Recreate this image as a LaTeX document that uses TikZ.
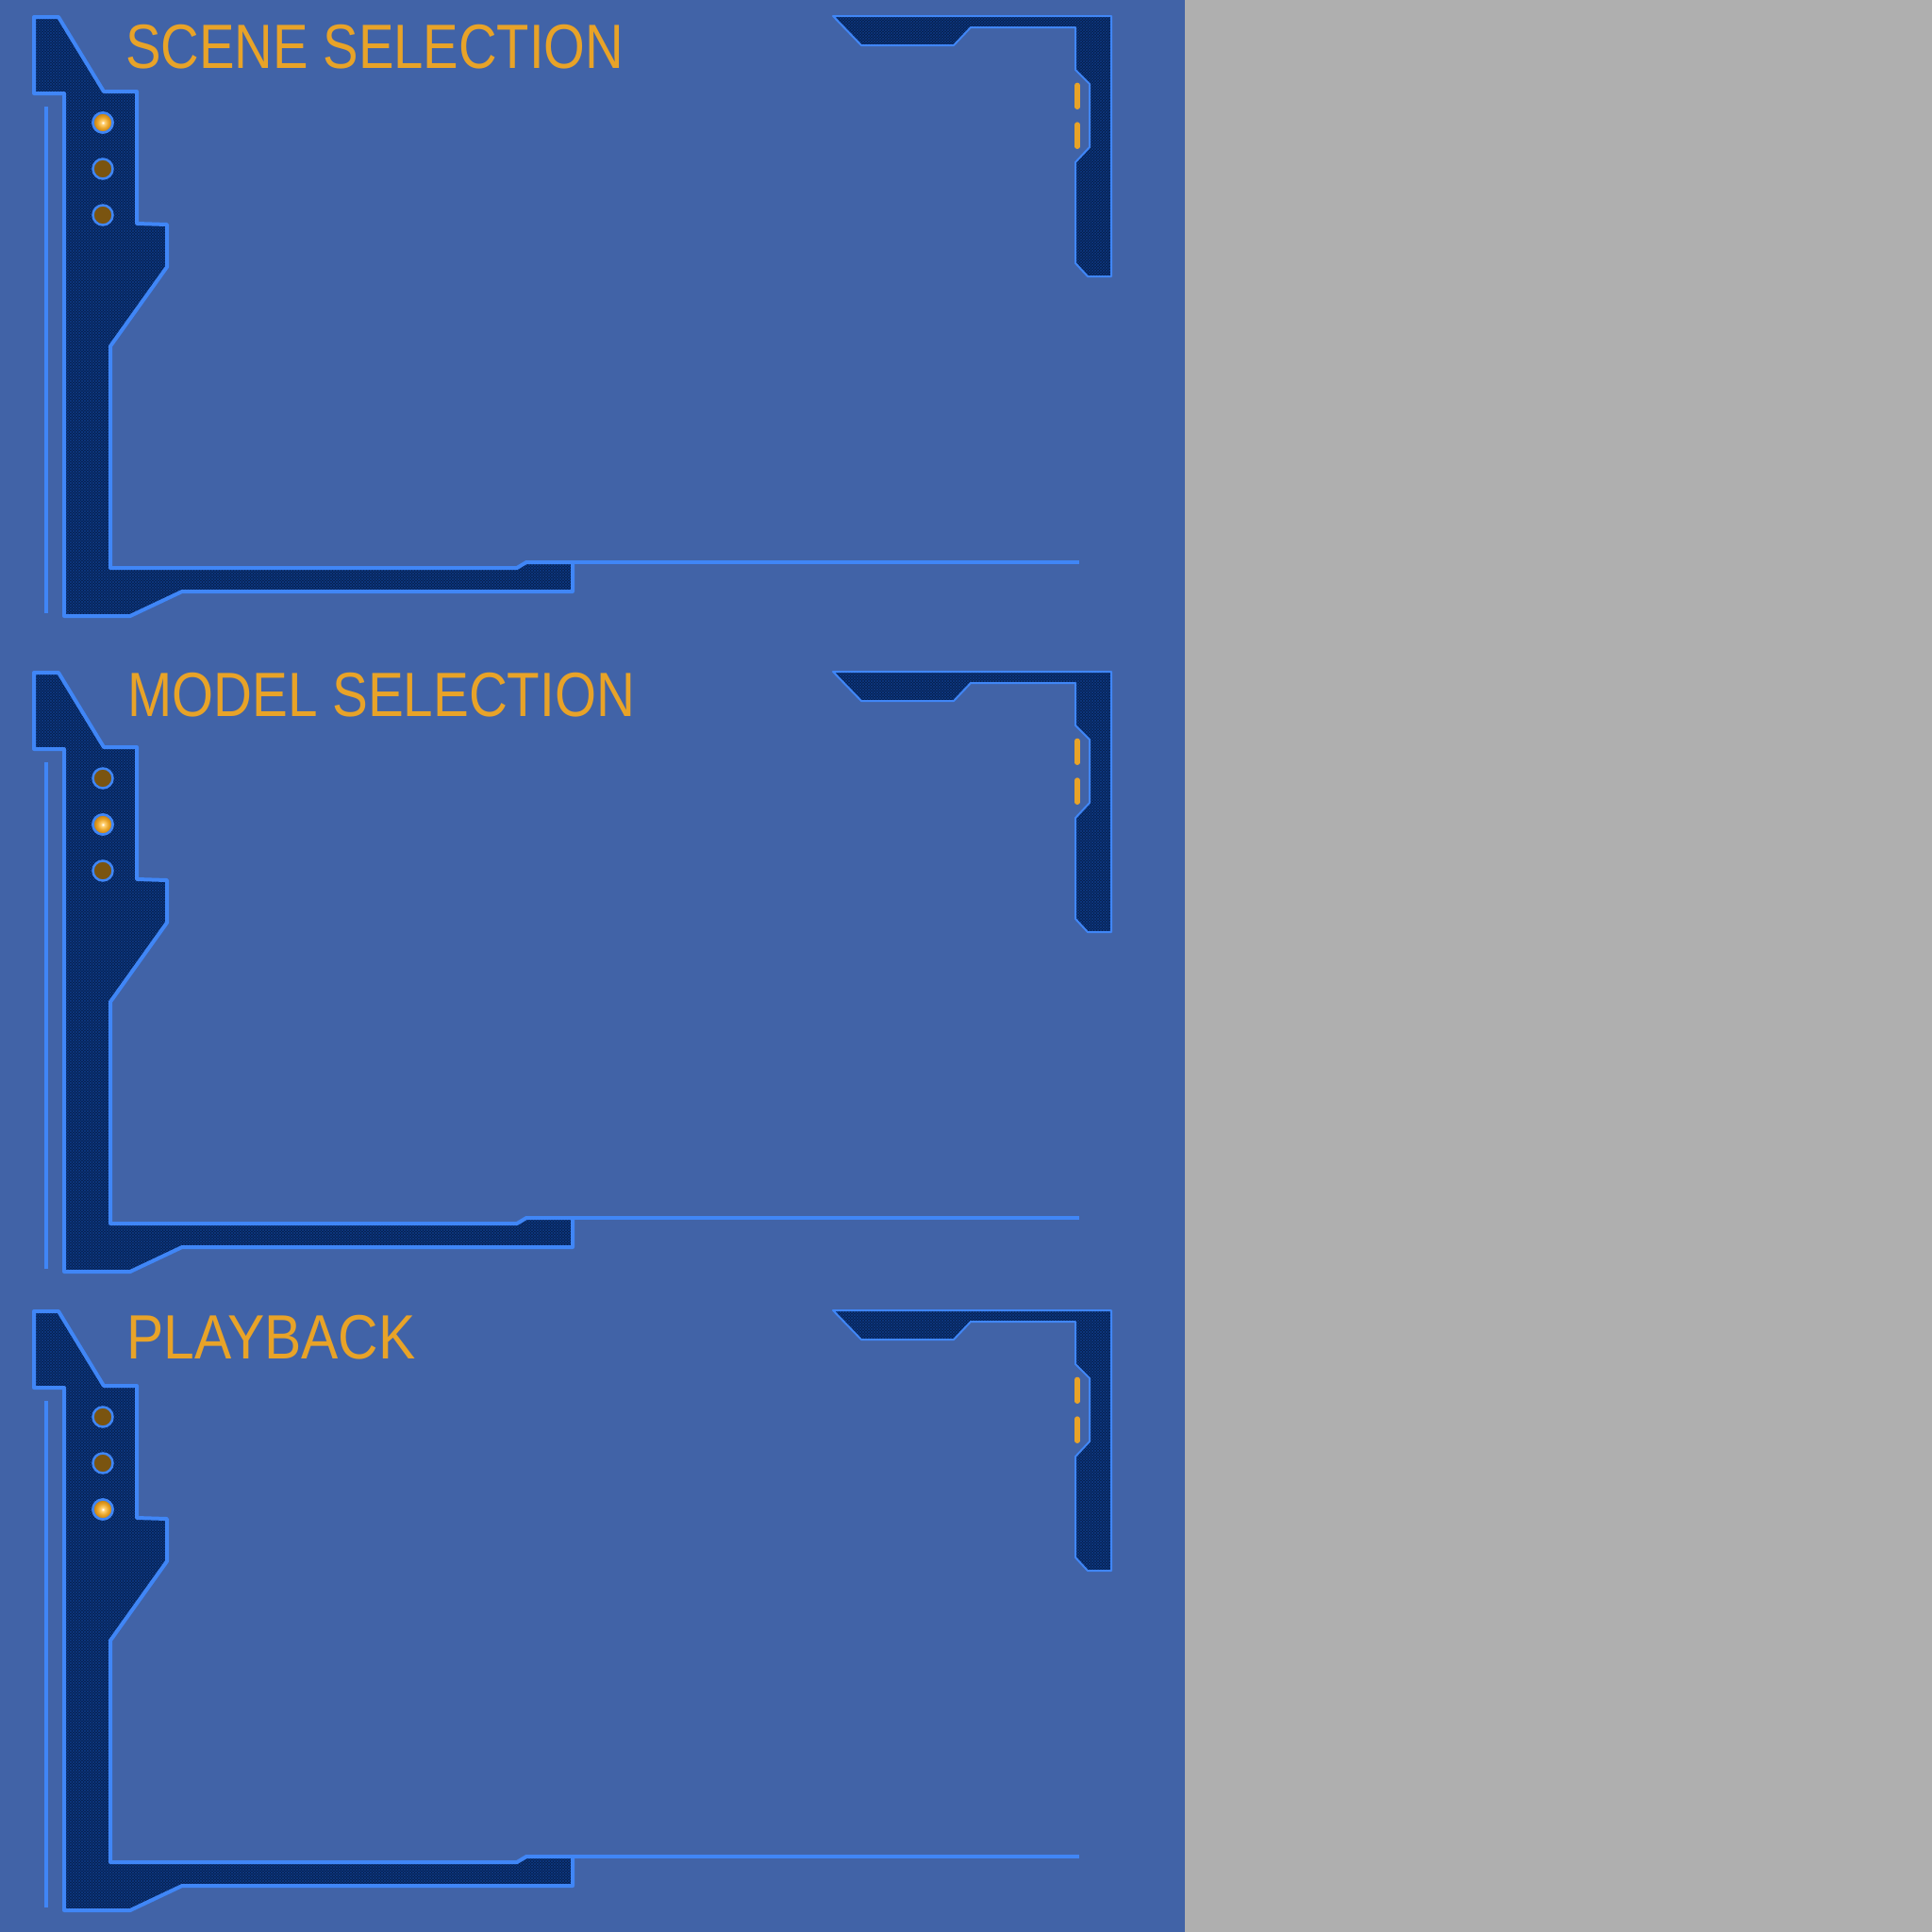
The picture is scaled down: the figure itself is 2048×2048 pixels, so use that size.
\documentclass[tikz,border=0pt]{standalone}
\usepackage{fontspec}
\setmainfont{Liberation Sans}
\usetikzlibrary{patterns}
\definecolor{bgblue}{HTML}{4163A7}
\definecolor{sidegray}{HTML}{AFAFAF}
\definecolor{navy}{HTML}{061E4C}
\definecolor{navyline}{HTML}{0E3A85}
\definecolor{edgeblue}{HTML}{4086F6}
\definecolor{amber}{HTML}{E8A328}
\definecolor{amberlight}{HTML}{FFD070}
\definecolor{amberdark}{HTML}{C07A0C}
\definecolor{dimdot}{HTML}{7A5410}
\pgfdeclareradialshading{glow}{\pgfpoint{0bp}{0bp}}{color(0bp)=(white); color(5bp)=(amberlight); color(14bp)=(amber); color(25bp)=(amberdark); color(50bp)=(amberdark)}
\tikzset{
  texture/.style={preaction={fill=navy}, preaction={pattern=north west lines, pattern color=navyline}, pattern=north east lines, pattern color=navyline},
  panelshape/.style={texture, draw=edgeblue, line width=4pt, line join=round},
  cornershape/.style={texture, draw=edgeblue, line width=2pt, line join=round},
  thinrule/.style={draw=edgeblue, line width=4pt},
  hrule/.style={draw=edgeblue, line width=4.5pt},
  dashmark/.style={draw=amber, line width=5.3pt, line cap=round},
  dimlamp/.style={fill=dimdot, draw=edgeblue, line width=2.5pt},
  brightlamp/.style={shading=glow, draw=edgeblue, line width=2.5pt},
  titletext/.style={anchor=base west, inner sep=0pt, text=amber}
}
% #1 vertical offset, #2 title, #3 title width, #4 lit lamp y, #5 name suffix, #6 title left, #7 title baseline
\newcommand\drawpanel[7]{%
\begin{scope}[yshift=-#1pt]
  \draw[thinrule] (49,113) coordinate (vl#5a) -- (49,650) coordinate (vl#5b);
  \path[panelshape] (36,18) -- (62,18) -- (110,97) -- (145,97) -- (145,237) -- (177,238) -- (177,283) -- (117,367) -- (117,602) -- (548,602) -- (558,596) -- (607,596) -- (607,627) -- (193,627) -- (138,653) -- (68,653) -- (68,99) -- (36,99) -- cycle;
  \coordinate (hr#5a) at (607,596);
  \coordinate (hr#5b) at (1144,596);
  \draw[hrule] (hr#5a) -- (hr#5b);
  \path[cornershape] (883,17) -- (1178,17) -- (1178,293) -- (1153,293) -- (1140,279) -- (1140,172) -- (1155,156) -- (1155,89) -- (1140,74) -- (1140,29) -- (1029,29) -- (1011,48) -- (913,48) -- cycle;
  \draw[dashmark] (1142,90.3) -- (1142,113.3);
  \draw[dashmark] (1142,132) -- (1142,155.3);
  \path[dimlamp] (109,130) circle[radius=10.5];
  \path[dimlamp] (109,179) circle[radius=10.5];
  \path[dimlamp] (109,228) circle[radius=10.5];
  \shadedraw[brightlamp] (109,#4) circle[radius=10.5];
  \node[titletext] (title#5) at (#6,#7) {\resizebox{#3pt}{46.3pt}{#2}};
\end{scope}}
\begin{document}
\begin{tikzpicture}[x=1pt,y=-1pt]
  \useasboundingbox (0,0) rectangle (2048,2048);
  \fill[sidegray] (0,0) rectangle (2048,2048);
  \fill[bgblue] (0,0) rectangle (1256,2048);
  \drawpanel{0}{SCENE SELECTION}{528}{130}{a}{133}{72}
  \drawpanel{695}{MODEL SELECTION}{538}{179}{b}{135}{64}
  \drawpanel{1372}{PLAYBACK}{306}{228}{c}{134}{68}
\end{tikzpicture}
\end{document}
